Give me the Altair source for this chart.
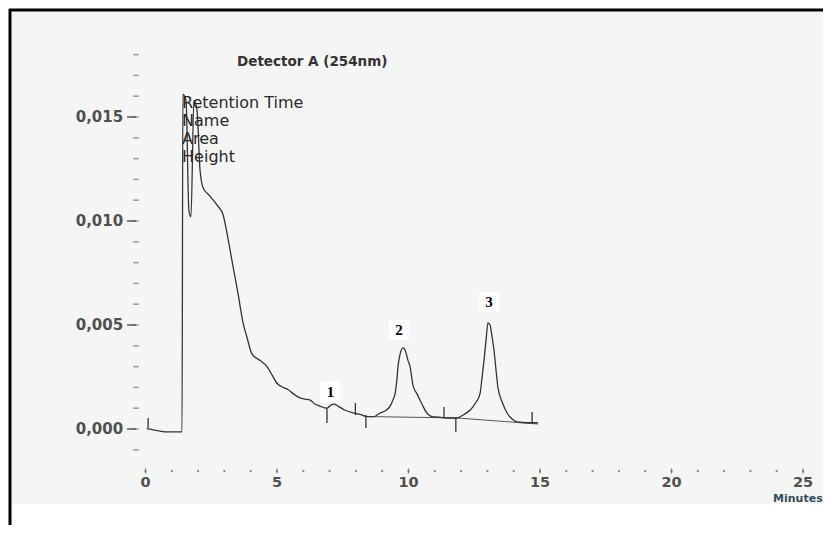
import altair as alt
import pandas as pd

# ---------------- data ----------------
trace_t = [0.05, 0.55, 0.82, 1.39, 1.42, 1.54, 1.65, 1.73, 1.84, 1.96, 2.07, 2.19,
           2.45, 2.76, 2.95, 3.10, 3.33, 3.52, 3.71, 3.86, 4.05, 4.35, 4.62, 4.81,
           5.00, 5.23, 5.42, 5.61, 5.87, 6.06, 6.25, 6.44, 6.63, 6.90, 7.05, 7.17,
           7.32, 7.59, 7.89, 8.16, 8.42, 8.69, 8.92, 9.15, 9.30, 9.41, 9.49, 9.56,
           9.60, 9.68, 9.79, 9.87, 9.98, 10.06, 10.17, 10.32, 10.51, 10.70, 10.89,
           11.08, 11.46, 11.84, 12.11, 12.34, 12.57, 12.72, 12.79, 12.87, 12.95,
           13.02, 13.10, 13.17, 13.25, 13.33, 13.40, 13.56, 13.75, 13.94, 14.13,
           14.54, 14.92]
trace_v = [0.00002, -0.0001, -0.00014, -0.00014, 0.0161, 0.0158, 0.0105, 0.0102,
           0.0158, 0.0153, 0.0125, 0.0116, 0.0112, 0.0107, 0.0103, 0.0094, 0.0078,
           0.0065, 0.0051, 0.0044, 0.0036, 0.0033, 0.0030, 0.0026, 0.0022, 0.0020,
           0.0019, 0.0017, 0.0015, 0.00144, 0.0014, 0.0012, 0.0011, 0.0010, 0.00115,
           0.0012, 0.0011, 0.0009, 0.00077, 0.0007, 0.0006, 0.0006, 0.00077, 0.0009,
           0.0011, 0.0014, 0.0017, 0.0024, 0.0030, 0.0036, 0.0039, 0.0038, 0.0033,
           0.0030, 0.0021, 0.0017, 0.0012, 0.00077, 0.0006, 0.00058, 0.00053,
           0.00053, 0.0007, 0.0009, 0.0013, 0.0017, 0.0024, 0.0033, 0.0043, 0.0051,
           0.0050, 0.0045, 0.0038, 0.0028, 0.0020, 0.0013, 0.00077, 0.00048, 0.00034,
           0.0003, 0.0003]

# integration baselines (segment id, time, value)
base_seg = [1, 1, 2, 2]
base_t = [8.42, 11.84, 11.84, 14.92]
base_v = [0.0006, 0.00053, 0.00053, 0.00024]

# peak start / end markers
mark_t = [0.10, 6.90, 7.98, 8.38, 11.35, 11.80, 14.70]
mark_top = [0.00053, 0.0010, 0.00125, 0.00067, 0.00106, 0.00053, 0.00082]
mark_bot = [0.00005, 0.00029, 0.00067, 0.00005, 0.00053, -0.00014, 0.00029]

# peak numbers
peak_label = ["1", "2", "3"]
peak_t = [7.03, 9.64, 13.06]
peak_v = [0.00178, 0.00476, 0.0061]

# axes
y_minor = [-0.001, 0.000, 0.001, 0.002, 0.003, 0.004, 0.005, 0.006, 0.007, 0.008,
           0.009, 0.010, 0.011, 0.012, 0.013, 0.014, 0.015, 0.016, 0.017, 0.018]
y_major = [0.000, 0.005, 0.010, 0.015]
y_major_label = ["0,000", "0,005", "0,010", "0,015"]
x_minor = list(range(0, 27))
x_major = [0, 5, 10, 15, 20, 25]
x_major_label = ["0", "5", "10", "15", "20", "25"]

legend_lines = ["Retention Time", "Name", "Area", "Height"]
legend_v = [0.01567, 0.01481, 0.01394, 0.01308]
title_text = "Detector A (254nm)"
x_title = "Minutes"

# ---------------- scales ----------------
W, H = 815, 517
xs = alt.Scale(domain=[-5.228, 25.760], nice=False, zero=False)
ys = alt.Scale(domain=[-0.004615, 0.020240], nice=False, zero=False)


def X(f):
    return alt.X(f, type="quantitative", scale=xs, axis=None)


def X2(f):
    return alt.X2(f)


def Y(f):
    return alt.Y(f, type="quantitative", scale=ys, axis=None)


FONT = "DejaVu Sans"

# ---------------- frames ----------------
one = pd.DataFrame({"k": [0]})
panel = alt.Chart(one).mark_rect(color="#f5f5f5").encode(
    x=alt.value(4), x2=alt.value(W), y=alt.value(4), y2=alt.value(496))
border_left = alt.Chart(one).mark_rule(color="black", strokeWidth=3).encode(
    x=alt.value(2), y=alt.value(1), y2=alt.value(H))
border_top = alt.Chart(one).mark_rule(color="black", strokeWidth=3).encode(
    y=alt.value(2), x=alt.value(1), x2=alt.value(W))

# ---------------- y axis ----------------
ymin_df = pd.DataFrame({"v": y_minor, "a": -0.475, "b": -0.247})
ymin = alt.Chart(ymin_df).mark_rule(color="#9a9a9a", strokeWidth=1.5).encode(
    x=X("a"), x2=X2("b"), y=Y("v"))
ymaj_df = pd.DataFrame({"v": y_major, "lab": y_major_label, "a": -0.70, "b": -0.36, "tx": -0.85})
ymaj = alt.Chart(ymaj_df).mark_rule(color="#555555", strokeWidth=1.5).encode(
    x=X("a"), x2=X2("b"), y=Y("v"))
ylab = alt.Chart(ymaj_df).mark_text(font=FONT, fontSize=15, fontWeight="bold",
                                    color="#505050", align="right",
                                    baseline="middle").encode(
    x=X("tx"), y=Y("v"), text="lab:N")

# ---------------- x axis ----------------
xdot_df = pd.DataFrame({"t": x_minor, "v": -0.00202})
xdots = alt.Chart(xdot_df).mark_square(size=4, color="#8a8a8a", opacity=1).encode(
    x=X("t"), y=Y("v"))
xmaj_df = pd.DataFrame({"t": x_major, "lab": x_major_label, "a": -0.00190, "b": -0.00214,
                        "lv": -0.00258})
xmaj = alt.Chart(xmaj_df).mark_rule(color="#777777", strokeWidth=1.2).encode(
    x=X("t"), y=Y("a"), y2=alt.Y2("b"))
xlab = alt.Chart(xmaj_df).mark_text(font=FONT, fontSize=14.5, fontWeight="bold",
                                    color="#505050", align="center",
                                    baseline="middle").encode(
    x=X("t"), y=Y("lv"), text="lab:N")
xtitle = alt.Chart(pd.DataFrame({"t": [23.86], "v": [-0.00337], "lab": [x_title]})).mark_text(
    font=FONT, fontSize=11, fontWeight="bold", color="#2f4f55", align="left",
    baseline="middle").encode(x=X("t"), y=Y("v"), text="lab:N")

# ---------------- chromatogram ----------------
trace_df = pd.DataFrame({"t": trace_t, "v": trace_v})
trace = alt.Chart(trace_df).mark_line(color="#333333", strokeWidth=1.3,
                                      interpolate="monotone").encode(
    x=X("t"), y=Y("v"), order="t:Q")

base_df = pd.DataFrame({"seg": base_seg, "t": base_t, "v": base_v})
baselines = alt.Chart(base_df).mark_line(color="#555555", strokeWidth=1).encode(
    x=X("t"), y=Y("v"), detail="seg:N")

mark_df = pd.DataFrame({"t": mark_t, "top": mark_top, "bot": mark_bot})
markers = alt.Chart(mark_df).mark_rule(color="#333333", strokeWidth=1.3).encode(
    x=X("t"), y=Y("top"), y2=alt.Y2("bot"))

peak_df = pd.DataFrame({"t": peak_t, "v": peak_v, "lab": peak_label})
peak_box = alt.Chart(peak_df).mark_square(size=400, color="white", opacity=1).encode(
    x=X("t"), y=Y("v"))
peak_txt = alt.Chart(peak_df).mark_text(font="Liberation Serif", fontSize=15,
                                        fontWeight="bold", color="black",
                                        align="center", baseline="middle").encode(
    x=X("t"), y=Y("v"), text="lab:N")

# ---------------- annotations ----------------
leg_df = pd.DataFrame({"t": 1.39, "v": legend_v, "lab": legend_lines})
legend = alt.Chart(leg_df).mark_text(font=FONT, fontSize=16, color="#2a2a2a",
                                     align="left", baseline="middle").encode(
    x=X("t"), y=Y("v"), text="lab:N")

title_df = pd.DataFrame({"t": [3.48], "v": [0.01764], "lab": [title_text]})
title = alt.Chart(title_df).mark_text(font=FONT, fontSize=13.5, fontWeight="bold",
                                      color="#333333", align="left",
                                      baseline="middle").encode(
    x=X("t"), y=Y("v"), text="lab:N")

chart = alt.layer(
    panel, border_left, border_top,
    ymin, ymaj, ylab, xdots, xmaj, xlab, xtitle,
    baselines, trace, markers, peak_box, peak_txt, legend, title,
).properties(
    width=W, height=H,
    autosize=alt.AutoSizeParams(type="none"),
    padding=0,
    background="white",
).configure_view(stroke=None)

chart.save("out.html", embed_options={"renderer": "svg", "actions": False})
